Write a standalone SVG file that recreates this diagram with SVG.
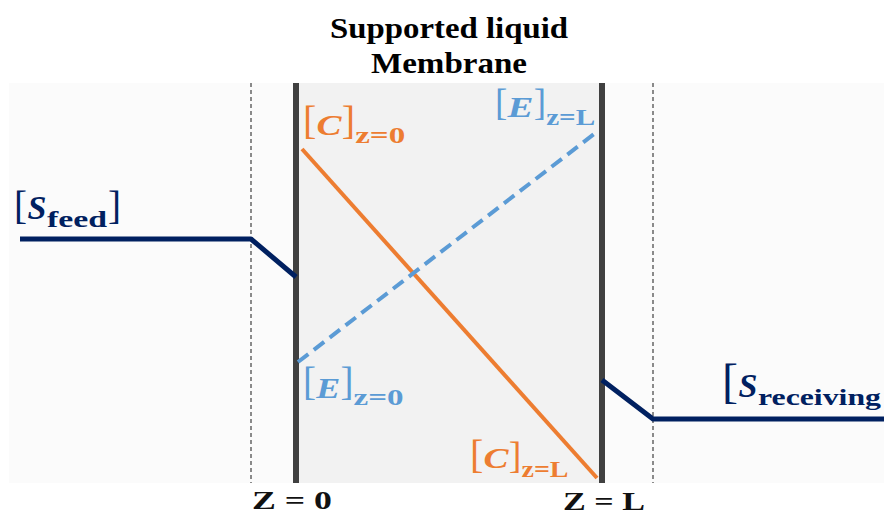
<svg xmlns="http://www.w3.org/2000/svg" width="884" height="516" viewBox="0 0 884 516">
<style>
text { font-family: "Liberation Serif", "Times New Roman", serif; }
.title { font-size: 30px; font-weight: bold; fill: #000; text-anchor: middle; }
.br { font-weight: normal; }
.v { font-style: italic; font-weight: bold; }
.sub { font-weight: bold; font-size: 24px; }
.navy { fill: #002060; }
.org { fill: #ED7D31; }
.blu { fill: #5B9BD5; }
.axis { font-size: 26px; font-weight: bold; fill: #111; }
.wall { stroke: #404040; stroke-width: 6; }
.guide { stroke: #666; stroke-width: 1.5; stroke-dasharray: 4 3; }
.conc { fill: none; stroke: #002060; stroke-width: 5; stroke-linejoin: round; }
</style>
<rect x="9" y="83" width="875" height="400" fill="#fbfbfb"/>
<g id="membrane">
<rect x="299" y="83" width="300" height="400" fill="#f2f2f2"/>
<line class="wall" x1="296" y1="83" x2="296" y2="483"/>
<line class="wall" x1="602" y1="83" x2="602" y2="483"/>
</g>
<g id="guides">
<line class="guide" x1="251" y1="83" x2="251" y2="483"/>
<line class="guide" x1="653" y1="83" x2="653" y2="483"/>
</g>
<g id="connectors">
<polyline class="conc" points="20,239 251,239 296,277"/>
<polyline class="conc" points="602,380 653,419 884,419"/>
<line x1="302" y1="149" x2="597" y2="478" stroke="#ED7D31" stroke-width="4"/>
<line x1="298" y1="362" x2="598" y2="131" stroke="#5B9BD5" stroke-width="4" stroke-dasharray="13 7"/>
</g>
<g id="title">
<text class="title" x="449" y="38" textLength="238" lengthAdjust="spacingAndGlyphs">Supported liquid</text>
<text class="title" x="449" y="73" textLength="156" lengthAdjust="spacingAndGlyphs">Membrane</text>
</g>
<g id="feed">
<text class="navy"><tspan class="br" x="14" y="219" font-size="39">[</tspan><tspan class="v" x="27.5" y="219" font-size="34">S</tspan><tspan class="sub" x="47" y="227" font-size="27" textLength="60" lengthAdjust="spacingAndGlyphs">feed</tspan><tspan class="br" x="108" y="219" font-size="39">]</tspan></text>
</g>
<g id="receiving">
<text class="navy"><tspan class="br" x="722" y="397" font-size="48">[</tspan><tspan class="v" x="738.5" y="397" font-size="34">S</tspan><tspan class="sub" x="758" y="405" font-size="27" textLength="123" lengthAdjust="spacingAndGlyphs">receiving</tspan></text>
</g>
<g id="C0">
<text class="org"><tspan class="br" x="303" y="134" font-size="40">[</tspan><tspan class="v" x="316.5" y="135" font-size="30" textLength="25" lengthAdjust="spacingAndGlyphs">C</tspan><tspan class="br" x="341.7" y="134" font-size="40">]</tspan><tspan class="sub" x="355.2" y="143" textLength="50" lengthAdjust="spacingAndGlyphs">z=0</tspan></text>
</g>
<g id="EL">
<text class="blu"><tspan class="br" x="495" y="115" font-size="37">[</tspan><tspan class="v" x="507.5" y="117" font-size="30" textLength="26" lengthAdjust="spacingAndGlyphs">E</tspan><tspan class="br" x="533.7" y="115" font-size="37">]</tspan><tspan class="sub" x="546.2" y="125" textLength="49" lengthAdjust="spacingAndGlyphs">z=L</tspan></text>
</g>
<g id="E0">
<text class="blu"><tspan class="br" x="303" y="395" font-size="39">[</tspan><tspan class="v" x="316.2" y="398" font-size="30" textLength="24" lengthAdjust="spacingAndGlyphs">E</tspan><tspan class="br" x="340.4" y="395" font-size="39">]</tspan><tspan class="sub" x="353.6" y="405" textLength="50" lengthAdjust="spacingAndGlyphs">z=0</tspan></text>
</g>
<g id="CL">
<text class="org"><tspan class="br" x="470" y="468" font-size="40">[</tspan><tspan class="v" x="483.5" y="468" font-size="30" textLength="25" lengthAdjust="spacingAndGlyphs">C</tspan><tspan class="br" x="508.7" y="468" font-size="38">]</tspan><tspan class="sub" x="521.5" y="477" textLength="47" lengthAdjust="spacingAndGlyphs">z=L</tspan></text>
</g>
<g id="axis">
<text class="axis" x="252" y="509" textLength="80" lengthAdjust="spacingAndGlyphs">Z = 0</text>
<text class="axis" x="563" y="510" textLength="82" lengthAdjust="spacingAndGlyphs">Z = L</text>
</g>
</svg>
